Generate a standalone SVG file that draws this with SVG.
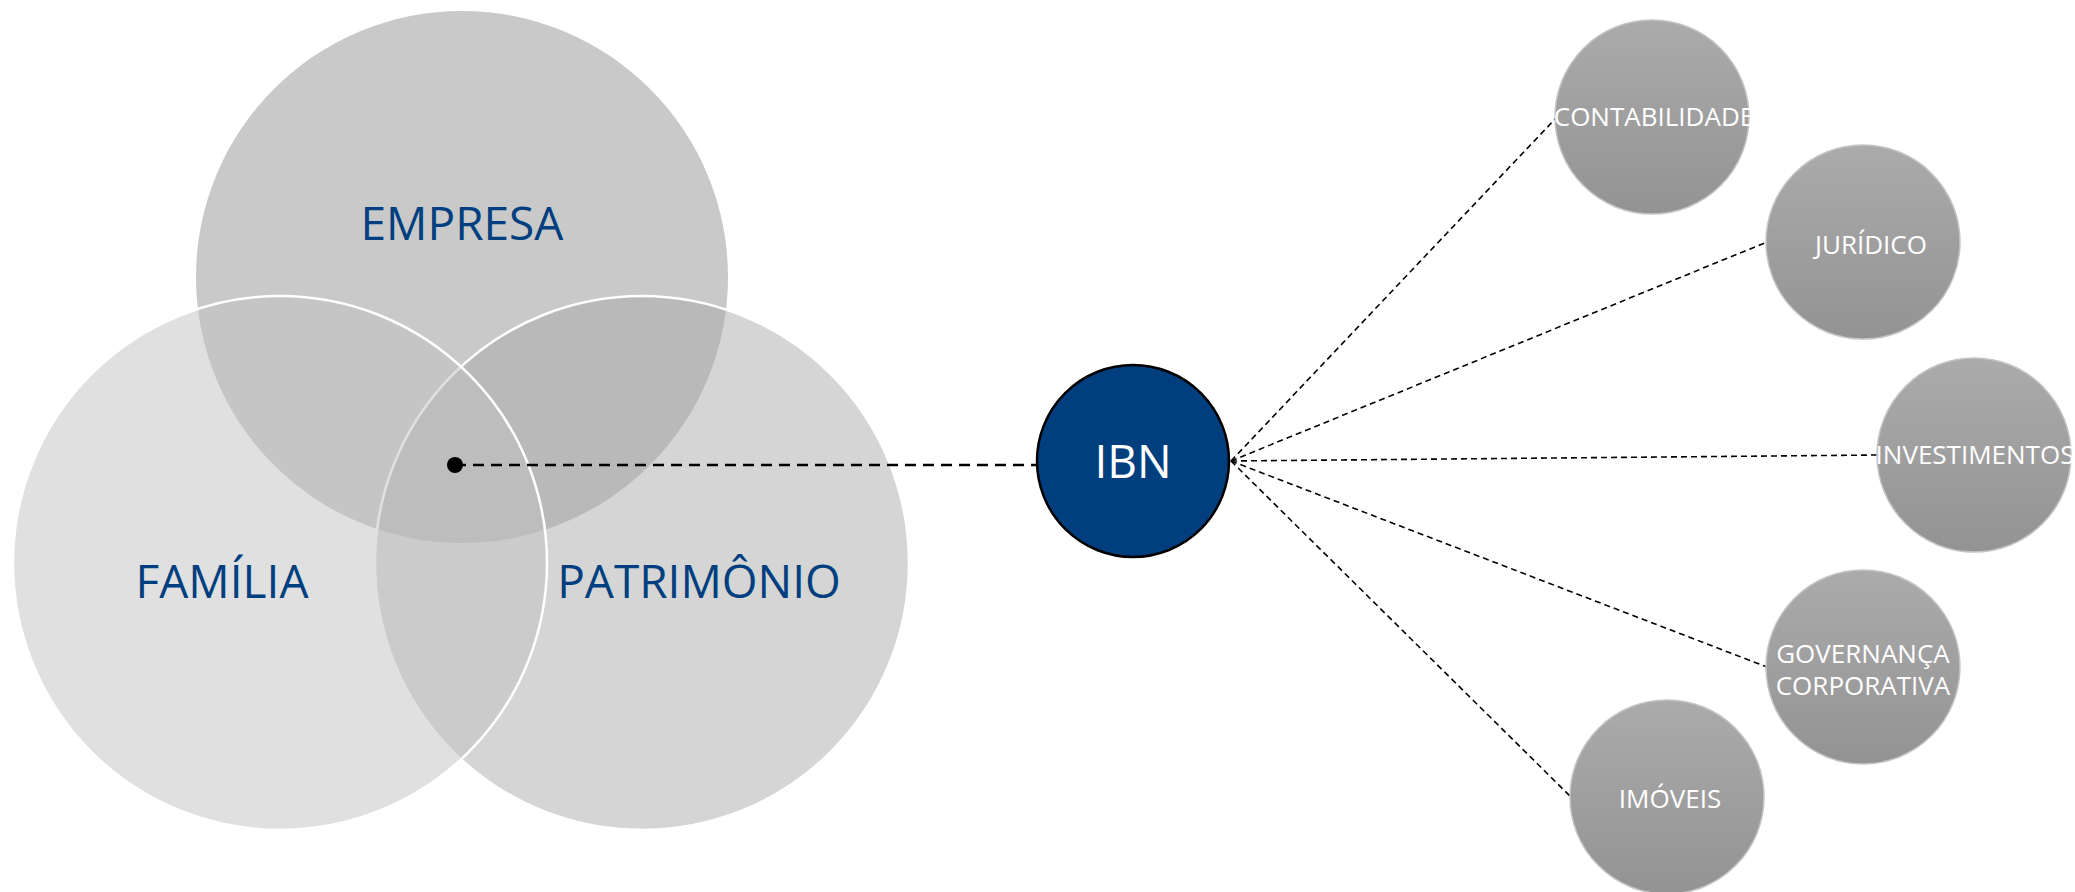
<svg xmlns="http://www.w3.org/2000/svg" width="2075" height="892" viewBox="0 0 2075 892">
<style>
.big{font-family:"Open Sans","Noto Sans","Liberation Sans",sans-serif;font-size:46px;fill:#003f7f;text-anchor:middle}
.sm{font-family:"Open Sans","Noto Sans","Liberation Sans",sans-serif;font-size:26px;fill:#ffffff;text-anchor:middle}
.ball{fill:url(#g);stroke:#c4c4c4;stroke-width:1.5}
.fan{stroke:#000;stroke-width:1.6;stroke-dasharray:6 4;fill:none}
</style>
<defs>
<linearGradient id="g" x1="0" y1="0" x2="0" y2="1">
<stop offset="0" stop-color="#ababab"/>
<stop offset="1" stop-color="#939393"/>
</linearGradient>
</defs>
<g id="empresa">
<circle cx="462" cy="277" r="266" fill="#c9c9c9"/>
<text class="big" x="462" y="240">EMPRESA</text>
</g>
<g id="patrimonio">
<circle cx="642" cy="563" r="267" fill="#a8a8a8" fill-opacity="0.48" stroke="#fff" stroke-width="2.5"/>
</g>
<g id="familia">
<circle cx="280" cy="563" r="267" fill="#c1c1c1" fill-opacity="0.5" stroke="#fff" stroke-width="2.5"/>
</g>
<g id="venn-labels">
<text class="big" x="222" y="598">FAMÍLIA</text>
<text class="big" x="699" y="598">PATRIMÔNIO</text>
</g>
<g id="connectors">
<line x1="455" y1="465" x2="1037" y2="465" stroke="#000" stroke-width="2.6" stroke-dasharray="11 7"/>
<line class="fan" x1="1231" y1="461" x2="1557" y2="117"/>
<line class="fan" x1="1231" y1="461" x2="1767" y2="242"/>
<line class="fan" x1="1231" y1="461" x2="1878" y2="455"/>
<line class="fan" x1="1231" y1="461" x2="1767" y2="667"/>
<line class="fan" x1="1231" y1="461" x2="1571" y2="797"/>
<circle cx="455" cy="465" r="8" fill="#000"/>
</g>
<g id="ibn">
<circle cx="1133" cy="461" r="96" fill="#003e7e" stroke="#000" stroke-width="2.5"/>
<text x="1133" y="478" font-family="Open Sans, Noto Sans, sans-serif" font-size="46" fill="#fff" text-anchor="middle">IBN</text>
</g>
<g id="contabilidade">
<circle class="ball" cx="1652" cy="117" r="97"/>
<text class="sm" x="1654" y="126" font-size="25">CONTABILIDADE</text>
</g>
<g id="juridico">
<circle class="ball" cx="1863" cy="242" r="97"/>
<text class="sm" x="1871" y="254">JURÍDICO</text>
</g>
<g id="investimentos">
<circle class="ball" cx="1974" cy="455" r="97"/>
<text class="sm" x="1975" y="464" font-size="25">INVESTIMENTOS</text>
</g>
<g id="governanca">
<circle class="ball" cx="1863" cy="667" r="97"/>
<text class="sm" x="1863" y="663">GOVERNANÇA</text>
<text class="sm" x="1863" y="695">CORPORATIVA</text>
</g>
<g id="imoveis">
<circle class="ball" cx="1667" cy="797" r="97"/>
<text class="sm" x="1670" y="808">IMÓVEIS</text>
</g>
</svg>
